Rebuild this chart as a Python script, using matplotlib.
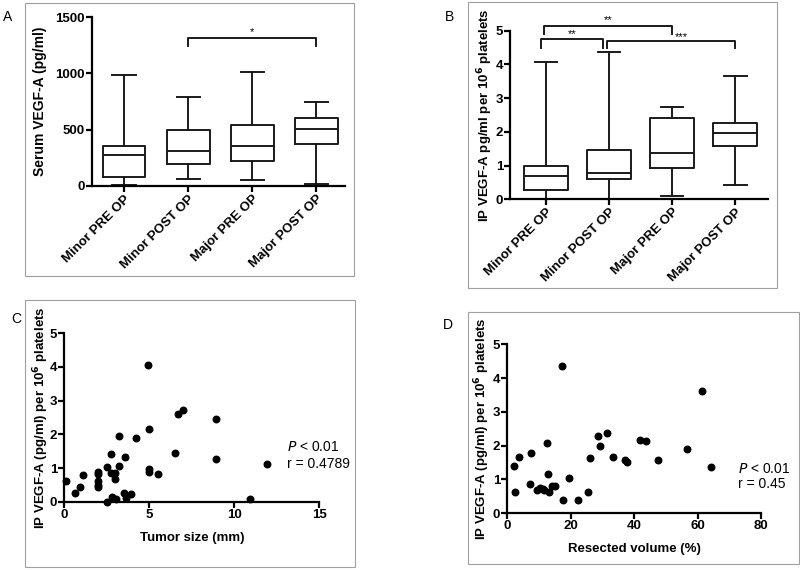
import numpy as np
import matplotlib
matplotlib.use('Agg')
import matplotlib.pyplot as plt
from matplotlib.patches import Rectangle

plt.rcParams['font.family'] = ['Liberation Sans', 'DejaVu Sans']

# --- data ---
groups = ['Minor PRE OP', 'Minor POST OP', 'Major PRE OP', 'Major POST OP']

# panel A: serum VEGF-A (pg/ml) box stats
serum_low = [5, 62, 53, 18]
serum_q1 = [77, 195, 222, 370]
serum_med = [275, 308, 355, 506]
serum_q3 = [352, 500, 541, 607]
serum_high = [985, 787, 1015, 743]

# panel B: IP VEGF-A per 10^6 platelets box stats
ip_low = [0.02, 0.0, 0.11, 0.42]
ip_q1 = [0.27, 0.61, 0.94, 1.57]
ip_med = [0.70, 0.79, 1.36, 1.96]
ip_q3 = [0.99, 1.47, 2.40, 2.26]
ip_high = [4.06, 4.38, 2.75, 3.66]

# panel C: tumor size (mm) vs IP VEGF-A
tumor_size = [0.1, 0.63, 0.9, 1.12, 2.0, 2.0, 2.0, 2.0, 2.0, 2.49, 2.53, 2.73, 2.73,
              2.82, 3.0, 3.0, 3.04, 3.2, 3.2, 3.57, 3.5, 3.65, 3.95, 4.2, 4.9, 5.0,
              5.0, 5.0, 5.5, 6.5, 6.68, 7.0, 8.95, 8.95, 10.94, 11.93]
tumor_vegf = [0.61, 0.25, 0.45, 0.78, 0.88, 0.82, 0.62, 0.50, 0.43, 1.04, 0.0, 1.41, 0.86,
              0.15, 0.86, 0.67, 0.08, 1.96, 1.05, 1.32, 0.26, 0.10, 0.23, 1.89, 4.05, 2.15,
              0.96, 0.89, 0.83, 1.44, 2.60, 2.72, 2.45, 1.27, 0.09, 1.13]

# panel D: resected volume (%) vs IP VEGF-A
resected = [2.0, 2.4, 3.6, 7.5, 7.2, 9.4, 10.2, 11.1, 11.7, 12.6, 12.8, 13.2, 14.2, 14.9,
            17.3, 17.6, 19.5, 22.4, 25.4, 26.2, 28.7, 29.1, 31.4, 33.2, 37.0, 37.7, 41.8,
            43.7, 47.5, 56.8, 61.4, 64.1]
resected_vegf = [1.39, 0.63, 1.66, 1.78, 0.87, 0.68, 0.74, 0.72, 0.70, 2.07, 1.17, 0.62,
                 0.81, 0.81, 4.35, 0.38, 1.04, 0.40, 0.63, 1.64, 2.28, 2.00, 2.39, 1.68,
                 1.57, 1.53, 2.16, 2.14, 1.57, 1.89, 3.63, 1.38]

W, H = 800, 570
fig = plt.figure(figsize=(8, 5.7), dpi=100)

def fbox(x0, y0, x1, y1):
    # pixel box (top-left origin) -> figure fraction rect
    return [x0 / W, 1 - y1 / H, (x1 - x0) / W, (y1 - y0) / H]

# grey frames around each panel
for x0, y0, x1, y1 in [(25, 3, 354, 276), (468, 2, 777, 288), (25, 300, 355, 567), (468, 312, 799, 564)]:
    fig.patches.append(Rectangle((x0 / W, 1 - y1 / H), (x1 - x0) / W, (y1 - y0) / H,
                                 transform=fig.transFigure, fill=False, ec='#a0a0a0', lw=0.8))


def style(ax):
    for s in ['top', 'right']:
        ax.spines[s].set_visible(False)
    for s in ['left', 'bottom']:
        ax.spines[s].set_linewidth(1.6)
    ax.tick_params(direction='out', length=4, width=1.6, labelsize=9.5, pad=1)
    for lab in ax.get_xticklabels() + ax.get_yticklabels():
        lab.set_fontweight('bold')


def ylab(ax, text, x_px, size=9.5):
    # place the label at pixel column x_px
    ax.set_ylabel(text, fontsize=size, fontweight='bold')
    bb = ax.get_position()
    ax.yaxis.set_label_coords((x_px / W - bb.x0) / bb.width, 0.5)


def boxes(ax, low, q1, med, q3, high, width):
    stats = [dict(whislo=a, q1=b, med=c, q3=d, whishi=e, fliers=[])
             for a, b, c, d, e in zip(low, q1, med, q3, high)]
    lp = dict(color='#1a1a1a', linewidth=1.4)
    ax.bxp(stats, positions=[1, 2, 3, 4], widths=width, showfliers=False,
           boxprops=lp, whiskerprops=lp, capprops=lp, medianprops=lp,
           capwidths=0.36)


def bracket(ax, x0, x1, y, tip, label, lx=None, ly=None):
    ax.plot([x0, x0, x1, x1], [tip, y, y, tip], color='#1a1a1a', lw=1.4, clip_on=False)
    ax.text((x0 + x1) / 2 if lx is None else lx, y if ly is None else ly, label,
            ha='center', va='bottom', fontsize=8)


# ---- A ----
axA = fig.add_axes(fbox(92, 17, 345, 186))
boxes(axA, serum_low, serum_q1, serum_med, serum_q3, serum_high, 0.67)
axA.set_xlim(0.5, 4.45)
axA.set_ylim(0, 1500)
axA.set_yticks([0, 500, 1000, 1500])
axA.set_xticks([1, 2, 3, 4])
axA.set_xticklabels(groups, rotation=45, ha='right', rotation_mode='anchor')
ylab(axA, 'Serum VEGF-A (pg/ml)', 47, size=10)
style(axA)
bracket(axA, 2.0, 4.0, 1310, 1245, '*', ly=1320)
fig.text(3 / W, 1 - 17 / H, 'A', fontsize=10, va='center')

# ---- B ----
axB = fig.add_axes(fbox(510, 30.7, 768, 199.3))
boxes(axB, ip_low, ip_q1, ip_med, ip_q3, ip_high, 0.69)
axB.set_xlim(0.43, 4.52)
axB.set_ylim(0, 5)
axB.set_yticks([0, 1, 2, 3, 4, 5])
axB.set_xticks([1, 2, 3, 4])
axB.set_xticklabels(groups, rotation=45, ha='right', rotation_mode='anchor')
ylab(axB, 'IP VEGF-A pg/ml per 10$^\\mathbf{6}$ platelets', 495)
style(axB)
bracket(axB, 0.92, 1.9, 4.74, 4.50, '**', ly=4.76)
bracket(axB, 0.97, 3.0, 5.15, 4.90, '**', ly=5.18)
bracket(axB, 1.97, 4.0, 4.70, 4.48, '***', lx=3.15, ly=4.66)
fig.text(445 / W, 1 - 17 / H, 'B', fontsize=10, va='center')

# ---- C ----
axC = fig.add_axes(fbox(64.3, 333.3, 319.3, 501.7))
axC.scatter(tumor_size, tumor_vegf, s=22, color='black', zorder=3, clip_on=False)
axC.set_xlim(0, 15)
axC.set_ylim(0, 5)
axC.set_xticks([0, 5, 10, 15])
axC.set_yticks([0, 1, 2, 3, 4, 5])
axC.set_xlabel('Tumor size (mm)', fontsize=9.5, fontweight='bold', labelpad=8)
ylab(axC, 'IP VEGF-A (pg/ml) per 10$^\\mathbf{6}$ platelets', 51)
style(axC)
axC.text(13.1, 1.62, '$P$ < 0.01', fontsize=10, va='center', clip_on=False)
axC.text(13.1, 1.12, 'r = 0.4789', fontsize=10, va='center', clip_on=False)
fig.text(11 / W, 1 - 319 / H, 'C', fontsize=10, va='center')

# ---- D ----
axD = fig.add_axes(fbox(507.3, 344.3, 761, 513.3))
axD.scatter(resected, resected_vegf, s=22, color='black', zorder=3, clip_on=False)
axD.set_xlim(0, 80)
axD.set_ylim(0, 5)
axD.set_xticks([0, 20, 40, 60, 80])
axD.set_yticks([0, 1, 2, 3, 4, 5])
axD.set_xlabel('Resected volume (%)', fontsize=9.5, fontweight='bold', labelpad=8)
ylab(axD, 'IP VEGF-A (pg/ml) per 10$^\\mathbf{6}$ platelets', 492)
style(axD)
axD.text(72.8, 1.31, '$P$ < 0.01', fontsize=10, va='center', clip_on=False)
axD.text(72.8, 0.87, 'r = 0.45', fontsize=10, va='center', clip_on=False)
fig.text(443 / W, 1 - 325 / H, 'D', fontsize=10, va='center')

plt.savefig('out.png', dpi=100)
